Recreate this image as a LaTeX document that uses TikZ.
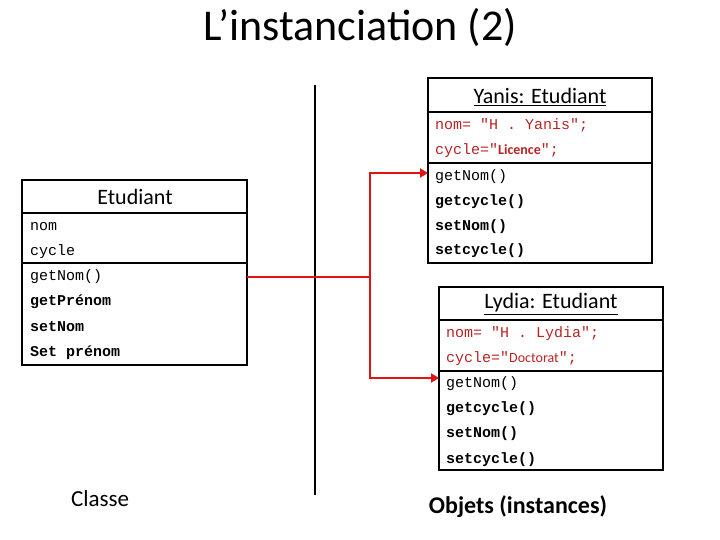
\documentclass[tikz,border=0pt]{standalone}
\usepackage{fontspec}
\setmainfont{Carlito}
\setmonofont{Liberation Mono}
\usetikzlibrary{arrows.meta}
\definecolor{dred}{RGB}{185,35,35}
\definecolor{lred}{RGB}{225,20,20}
\begin{document}
\begin{tikzpicture}[x=1pt,y=-1pt,
  box/.style={draw=black,line width=2.2pt},
  row/.style={anchor=west,inner sep=0pt,font=\ttfamily\fontsize{15}{15}\selectfont},
  brow/.style={row,font=\ttfamily\bfseries\fontsize{15}{15}\selectfont},
  rrow/.style={row,text=dred},
  hdr/.style={inner sep=0pt,font=\fontsize{22}{22}\selectfont},
  conn/.style={draw=lred,line width=2.4pt},
  arr/.style={conn,-{Triangle[length=8pt,width=9pt]}}]
\useasboundingbox (0,0) rectangle (720,540);
\node[font=\fontsize{44}{44}\selectfont] (title) at (360,27) {L’instanciation (2)};
% class
\draw[box] (22,180) rectangle (247,365);
\draw[box] (22,213) -- (247,213);
\draw[box] (22,263) -- (247,263);
\node[hdr] (ch) at (135,197) {Etudiant};
\node[row] (c1) at (30,227) {nom};
\node[row] (c2) at (30,252) {cycle};
\node[row] (c3) at (30,277) {getNom()};
\node[brow] (c4) at (30,302) {getPrénom};
\node[brow] (c5) at (30,327) {setNom};
\node[brow] (c6) at (30,353) {Set prénom};
\coordinate (cout) at (247,277);
% Yanis
\draw[box] (428,78) rectangle (652,263);
\draw[box] (428,112) -- (652,112);
\draw[box] (428,163) -- (652,163);
\node[hdr] (yh) at (540,97) {\underline{Yanis: Etudiant}};
\node[rrow] (y1) at (435,125) {nom= "H . Yanis";};
\node[rrow] (y2) at (435,151) {cycle="{\rmfamily\bfseries\fontsize{14}{14}\selectfont Licence}";};
\node[row] (y3) at (435,177) {getNom()};
\node[brow] (y4) at (435,202) {getcycle()};
\node[brow] (y5) at (435,227) {setNom()};
\node[brow] (y6) at (435,251) {setcycle()};
\coordinate (yin) at (428,173);
% Lydia
\draw[box] (439,287) rectangle (663,470);
\draw[box] (439,320) -- (663,320);
\draw[box] (439,371) -- (663,371);
\node[hdr] (lh) at (551,304) {\underline{Lydia: Etudiant}};
\node[rrow] (l1) at (446,334) {nom= "H . Lydia";};
\node[rrow] (l2) at (446,359) {cycle="{\rmfamily\fontsize{14}{14}\selectfont Doctorat}";};
\node[row] (l3) at (446,384) {getNom()};
\node[brow] (l4) at (446,409) {getcycle()};
\node[brow] (l5) at (446,434) {setNom()};
\node[brow] (l6) at (446,460) {setcycle()};
\coordinate (lin) at (439,378);
% separator
\coordinate (s1) at (315,85);
\coordinate (s2) at (315,495);
\draw[line width=2.2pt] (s1) -- (s2);
% connectors
\coordinate (j) at (370,277);
\draw[conn] (cout) -- (j);
\draw[arr] (j) |- (yin);
\draw[arr] (j) |- (lin);
\node[font=\fontsize{23}{23}\selectfont] (cls) at (100,499) {Classe};
\node[font=\bfseries\fontsize{24}{24}\selectfont] (obj) at (518,507) {Objets (instances)};
\end{tikzpicture}
\end{document}
